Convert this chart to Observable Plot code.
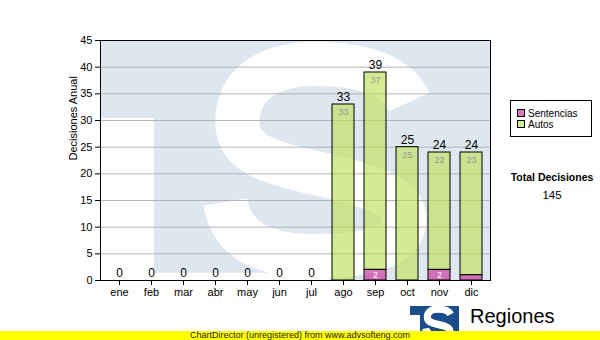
<!DOCTYPE html>
<html>
<head>
<meta charset="utf-8">
<script src="https://cdn.jsdelivr.net/npm/d3@7"></script>
<script src="https://cdn.jsdelivr.net/npm/@observablehq/plot@0.6"></script>
<style>
  html, body { margin: 0; padding: 0; background: #fff; }
  #wrap { position: relative; width: 600px; height: 340px; overflow: hidden; font-family: "Liberation Sans", Arial, sans-serif; }
  #chart { position: absolute; left: 0; top: 0; }
  .abs { position: absolute; }
</style>
</head>
<body>
<div id="wrap">
  <div id="chart"></div>
  <div class="abs" id="legend" style="left:510px; top:100px; width:80px; height:35px; border:1px solid #000; background:#fff; font-size:10px;"></div>
  <div class="abs" id="totalTitle" style="left:500px; top:171px; width:104px; text-align:center; font-weight:bold; font-size:10.5px;"></div>
  <div class="abs" id="totalValue" style="left:500px; top:189px; width:104px; text-align:center; font-size:11.5px;"></div>
  <div class="abs" id="logo" style="left:405px; top:300px; width:195px; height:31px; overflow:hidden;"></div>
  <div class="abs" id="footer" style="left:0; top:331px; width:600px; height:9px; background:#ffff00; text-align:center; font-size:9px; line-height:9px; color:#222;"></div>
</div>
<script>
// ---- data ----
const months = ["ene","feb","mar","abr","may","jun","jul","ago","sep","oct","nov","dic"];
const autos = [0,0,0,0,0,0,0,33,37,25,22,23];
const sentencias = [0,0,0,0,0,0,0,0,2,0,2,1];
const series = ["Sentencias","Autos"];
const yTicks = [0,5,10,15,20,25,30,35,40,45];
const yTitle = "Decisiones Anual";
const totalTitle = "Total Decisiones";
const footerText = "ChartDirector (unregistered) from www.advsofteng.com";
const logoTitle = "Regiones";
const logoSub = "Tribunal Supremo de Justicia";

// ---- styles ----
const seriesColors = ["#c93098", "#bde05b"];
const legendColors = ["#dd77bb", "#d4eb94"];
// S-shaped logo stroke, in a 223 x 238 box
const sPath = "M 204 60 C 190 30, 152 22, 110 22 C 55 22, 32 48, 32 80 C 32 110, 60 120, 110 131 C 165 143, 199 154, 199 177 C 199 204, 165 214, 110 214 C 58 214, 26 198, 20 160";

const rows = months.flatMap((m, i) => [
  {month: m, serie: "Sentencias", value: sentencias[i]},
  {month: m, serie: "Autos", value: autos[i]}
]).filter(d => d.value > 0);
const totals = months.map((m, i) => ({month: m, total: autos[i] + sentencias[i]}));
const autosLabels = months.map((m, i) => ({month: m, top: autos[i] + sentencias[i], v: autos[i]})).filter(d => d.v > 0);
const sentLabels = months.map((m, i) => ({month: m, v: sentencias[i]})).filter(d => d.v >= 2);
const grandTotal = d3.sum(totals, d => d.total);

// watermark (decorative logo behind the plot area)
function watermark(index, scales, values, dims) {
  const x0 = dims.marginLeft, y0 = dims.marginTop;
  const x1 = dims.width - dims.marginRight, y1 = dims.height - dims.marginBottom;
  const w = x1 - x0, h = y1 - y0;
  const g = d3.create("svg:g");
  const id = "wmclip";
  g.append("clipPath").attr("id", id).append("rect")
    .attr("x", x0).attr("y", y0).attr("width", w).attr("height", h);
  const c = g.append("g").attr("clip-path", `url(#${id})`);
  const blue = "#dee7f0";
  c.append("rect").attr("x", x0).attr("y", y0).attr("width", w).attr("height", h).attr("fill", blue);
  c.append("rect").attr("x", x0).attr("y", y0 + h * 0.325).attr("width", w * 0.138).attr("height", h).attr("fill", "#fff");
  c.append("rect").attr("x", x0 + w * 0.138).attr("y", y1 - h * 0.03).attr("width", w * 0.45).attr("height", h).attr("fill", "#fff");
  c.append("path")
    .attr("transform", `translate(${x0 + w * 0.27},${y0 + 2})`)
    .attr("d", sPath)
    .attr("fill", "none")
    .attr("stroke", "#fff")
    .attr("stroke-width", 44);
  return g.node();
}

const chart = Plot.plot({
  width: 600,
  height: 340,
  marginLeft: 100,
  marginRight: 110,
  marginTop: 40,
  marginBottom: 60,
  style: {fontFamily: "Liberation Sans, Arial, sans-serif", fontSize: "11px", color: "#000", background: "transparent"},
  x: {domain: months, paddingInner: 0.3, paddingOuter: 0.15, label: null, tickSize: 5, tickPadding: 3},
  y: {domain: [0, 45], ticks: yTicks, label: null, tickSize: 5, tickPadding: 3},
  color: {domain: series, range: seriesColors},
  marks: [
    watermark,
    Plot.ruleY(yTicks.filter(t => t > 0 && t < 45), {stroke: "#b4b4b4", strokeWidth: 1}),
    Plot.barY(rows, {x: "month", y: "value", fill: "serie", fillOpacity: 0.65, stroke: "#000", strokeWidth: 1, order: series}),
    Plot.text(totals, {x: "month", y: "total", text: d => String(d.total), dy: -7, fontSize: 12, fill: "#000"}),
    Plot.text(autosLabels, {x: "month", y: "top", text: d => String(d.v), dy: 8, fontSize: 9, fill: "#999"}),
    Plot.text(sentLabels, {x: "month", y: d => d.v / 2, text: d => String(d.v), fontSize: 9, fill: "#fff"}),
    Plot.text([yTitle], {frameAnchor: "left", rotate: -90, dx: -27, fontSize: 11, fill: "#000"}),
    Plot.frame({stroke: "#000", strokeWidth: 1})
  ]
});
document.getElementById("chart").appendChild(chart);

// legend
const legend = document.getElementById("legend");
series.forEach((s, i) => {
  const row = document.createElement("div");
  row.style.cssText = `position:absolute; left:6px; top:${7 + i * 11}px; height:11px; line-height:11px; white-space:nowrap;`;
  row.innerHTML = `<span style="display:inline-block; width:6px; height:6px; border:1px solid #000; background:${legendColors[i]}; margin-right:3px; vertical-align:0px;"></span>${s}`;
  legend.appendChild(row);
});
document.getElementById("totalTitle").textContent = totalTitle;
document.getElementById("totalValue").textContent = String(grandTotal);
document.getElementById("footer").textContent = footerText;

// logo (clipped by the footer bar)
document.getElementById("logo").innerHTML = `
<svg width="195" height="31" xmlns="http://www.w3.org/2000/svg">
  <rect x="5" y="6" width="49" height="30" fill="#1b4c8c"/>
  <rect x="5" y="15" width="10" height="25" fill="#fff"/>
  <path transform="translate(18,6) scale(0.135,0.14)" d="${sPath}" fill="none" stroke="#fff" stroke-width="52"/>
  <text x="65" y="23" font-family="Liberation Sans, Arial" font-size="20" fill="#000">${logoTitle}</text>
</svg>`;
</script>
</body>
</html>
